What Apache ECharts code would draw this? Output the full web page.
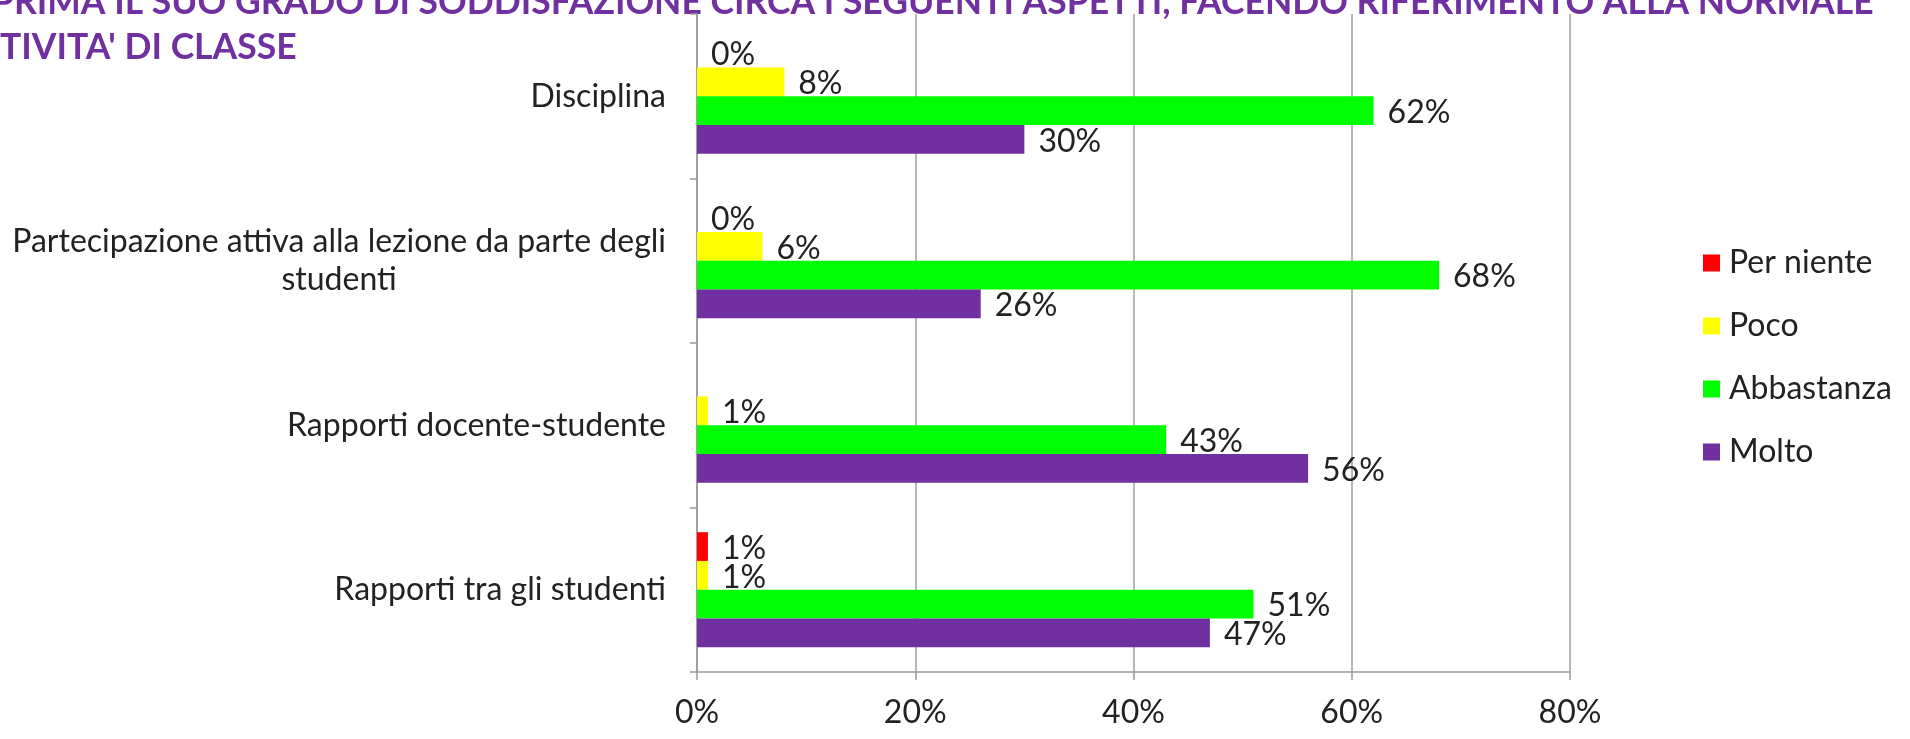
<!DOCTYPE html>
<html>
<head>
<meta charset="utf-8">
<style>
  html, body { margin: 0; padding: 0; background: #fff; }
  #grafico { width: 1910px; height: 739px; }
</style>
</head>
<body>
<div id="grafico"></div>

<script src="https://cdn.jsdelivr.net/npm/echarts@6/dist/echarts.min.js"></script>
<script>
    // Dati del grafico
    var categorie = [
        'Disciplina',
        'Partecipazione attiva alla lezione da parte degli\nstudenti',
        'Rapporti docente-studente',
        'Rapporti tra gli studenti'
    ];
    var serieNomi = ['Per niente', 'Poco', 'Abbastanza', 'Molto'];
    var perNiente = [0, 0, null, 1];
    var poco = [8, 6, 1, 1];
    var abbastanza = [62, 68, 43, 51];
    var molto = [30, 26, 56, 47];
    var colori = ['#ff0000', '#ffff00', '#00ff00', '#7030a0'];
    var titolo1 = "PRIMA IL SUO GRADO DI SODDISFAZIONE CIRCA I SEGUENTI ASPETTI, FACENDO RIFERIMENTO ALLA NORMALE";
    var titolo2 = "TIVITA' DI CLASSE";

    var font = 'Lato';
    var fontSize = 32;

    // larghezza della riga più lunga, per centrare le etichette su due righe
    var ctx = document.createElement('canvas').getContext('2d');
    ctx.font = fontSize + 'px ' + font;
    var larghezzaMax = 0;
    categorie.forEach(function (c) {
        c.split('\n').forEach(function (r) {
            larghezzaMax = Math.max(larghezzaMax, ctx.measureText(r).width);
        });
    });

    var myChart = echarts.init(document.getElementById('grafico'));

    var valori = [perNiente, poco, abbastanza, molto];
    var series = serieNomi.map(function (nome, i) {
        return {
            name: nome,
            type: 'bar',
            data: valori[i],
            barGap: '0%',
            barCategoryGap: '30%',
            itemStyle: { color: colori[i] },
            label: {
                show: true,
                position: 'right',
                distance: 14,
                offset: [0, 2],
                formatter: '{c}%',
                fontFamily: font,
                fontSize: fontSize,
                color: '#222'
            }
        };
    });

    var option = {
        animation: false,
        textStyle: { fontFamily: font },
        graphic: [
            {
                type: 'text', left: -8, top: -15,
                style: { text: titolo1, fontFamily: font, fontWeight: 'bold', fontSize: 35.5, fill: '#7030a0' }
            },
            {
                type: 'text', left: 0, top: 30,
                style: { text: titolo2, fontFamily: font, fontWeight: 'bold', fontSize: 35.5, fill: '#7030a0' }
            }
        ],
        legend: {
            orient: 'vertical',
            left: 1698,
            top: 242,
            icon: 'rect',
            itemWidth: 17,
            itemHeight: 17,
            itemGap: 31,
            data: serieNomi,
            textStyle: { fontFamily: font, fontSize: fontSize, color: '#222', padding: [0, 0, 0, 4] }
        },
        grid: {
            left: 697,
            right: 340,
            top: 14,
            bottom: 67
        },
        xAxis: {
            type: 'value',
            min: 0,
            max: 80,
            interval: 20,
            axisLine: { show: true, lineStyle: { color: '#999', width: 1.5 } },
            axisTick: { show: true, length: 8, lineStyle: { color: '#999', width: 1.5 } },
            splitLine: { show: true, lineStyle: { color: '#a0a0a0', width: 1.5 } },
            axisLabel: {
                formatter: '{value}%',
                fontFamily: font,
                fontSize: fontSize,
                color: '#222',
                margin: 25
            }
        },
        yAxis: {
            type: 'category',
            inverse: true,
            data: categorie,
            axisLine: { show: true, lineStyle: { color: '#999', width: 1.5 } },
            axisTick: { show: true, length: 7, lineStyle: { color: '#999', width: 1.5 } },
            axisLabel: {
                margin: 31,
                fontFamily: font,
                fontSize: fontSize,
                color: '#222',
                lineHeight: 38,
                formatter: function (v) {
                    if (v.indexOf('\n') < 0) return v;
                    return v.split('\n').map(function (r) { return '{c|' + r + '}'; }).join('\n');
                },
                rich: {
                    c: {
                        width: larghezzaMax,
                        align: 'center',
                        fontFamily: font,
                        fontSize: fontSize,
                        color: '#222',
                        lineHeight: 38
                    }
                }
            }
        },
        series: series
    };

    myChart.setOption(option);
</script>
</body>
</html>
